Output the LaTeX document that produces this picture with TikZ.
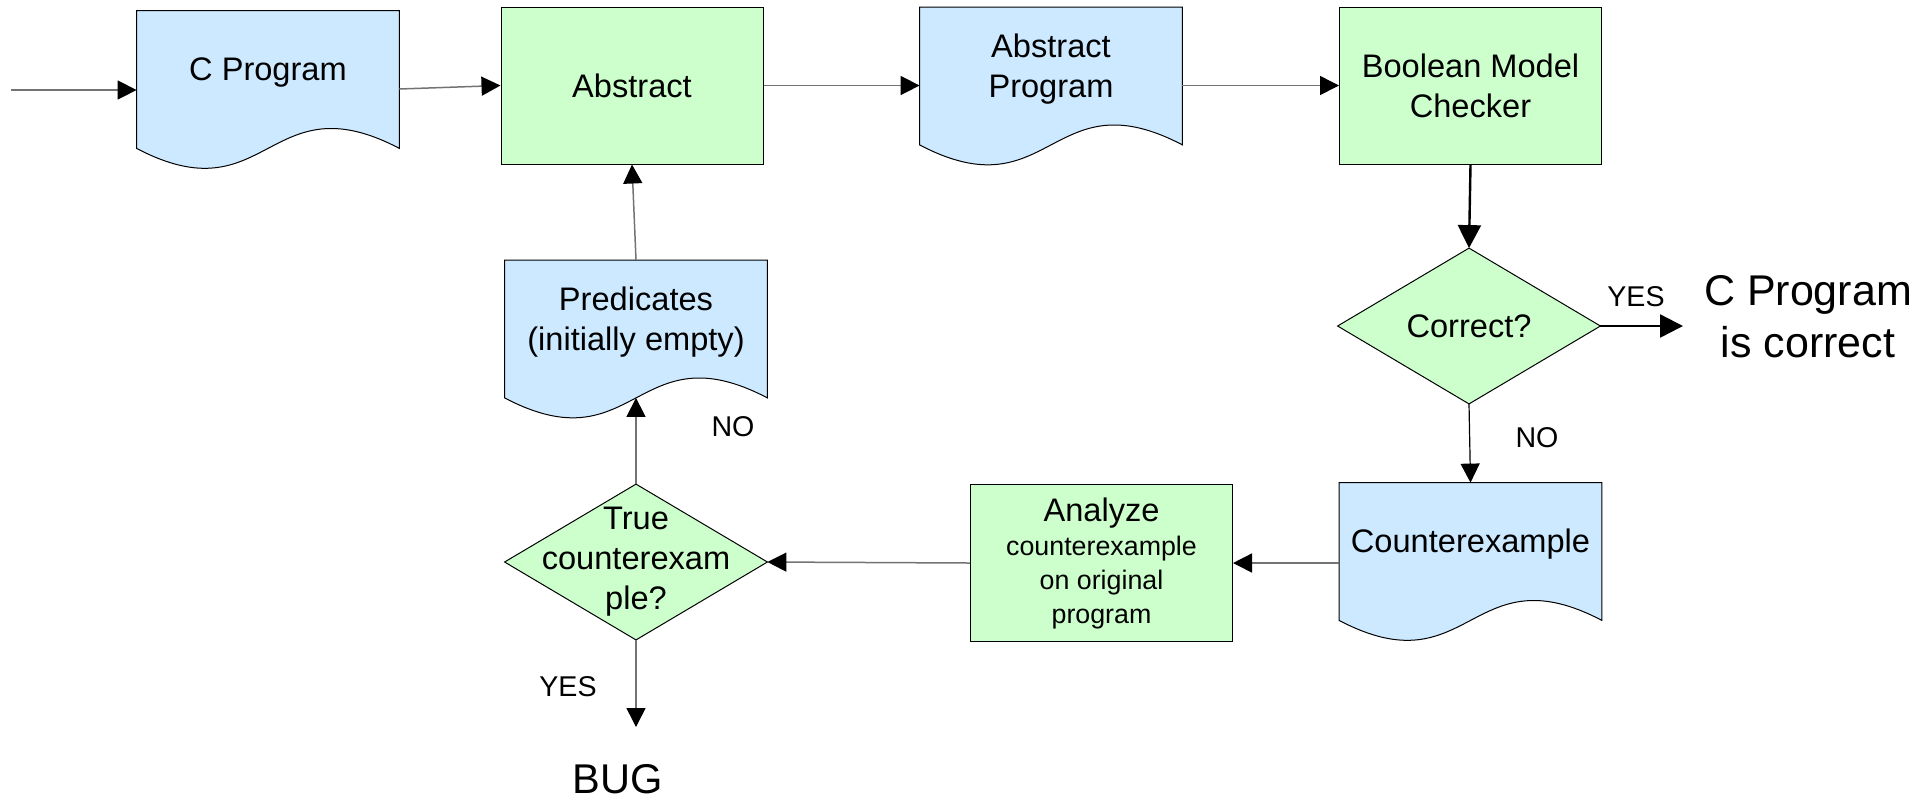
\documentclass[tikz,border=0pt]{standalone}
\usepackage{fontspec}
\setmainfont{Liberation Sans}
\usetikzlibrary{arrows.meta,calc}
\pgfdeclarelayer{background}
\pgfsetlayers{background,main}
\definecolor{docblue}{RGB}{204,233,255}
\definecolor{procgreen}{RGB}{204,255,204}
\definecolor{linegray}{RGB}{115,115,115}
\newcommand\lift[1]{\raisebox{3.5pt}[\height][\depth]{#1}}
\newcommand\docoutline[1]{%
  \filldraw[fill=docblue,draw=black,line width=0.5pt]
    (#1.north west) -- (#1.north east) -- (#1.south east)
    .. controls ($(#1.south)+(0,-69)$) and ($(#1.south)+(0,69)$) .. (#1.south west) -- cycle;}
\newcommand\diamondoutline[1]{%
  \filldraw[fill=procgreen,draw=black,line width=0.5pt]
    (#1.north) -- (#1.east) -- (#1.south) -- (#1.west) -- cycle;}
\tikzset{
  mainfont/.style={font=\fontsize{16.3}{20}\selectfont},
  every node/.style={align=center, inner sep=0pt, mainfont},
  docnode/.style={rectangle, minimum width=131pt, minimum height=68.5pt},
  procbox/.style={rectangle, draw=black, line width=0.5pt, fill=procgreen,
    minimum width=131pt, minimum height=78.5pt},
  decnode/.style={rectangle, minimum width=131pt, minimum height=77.5pt},
  lbl/.style={font=\fontsize{14.3}{17}\selectfont},
  bigtxt/.style={font=\fontsize{21.5}{26}\selectfont},
  arr/.style={draw=linegray, line width=0.75pt,
    -{Triangle[length=9.5pt,width=9.5pt,color=black]}},
  arrblack/.style={draw=black, line width=0.6pt,
    -{Triangle[length=9.5pt,width=9.5pt,color=black]}},
  arrthick/.style={draw=black, line width=1.2pt,
    -{Triangle[length=11.5pt,width=11.5pt,color=black]}},
}
\begin{document}
\begin{tikzpicture}[x=0.5pt,y=-0.5pt]
\useasboundingbox (0,0) rectangle (1920,800);

% top row
\node[docnode] (cp) at (268,79.5) {\lift{C Program}};
\node[procbox] (abs) at (632,85.5) {Abstract};
\node[docnode] (ap) at (1051,76) {\lift{Abstract}\\\lift{Program}};
\node[procbox] (bmc) at (1470.5,85.5) {Boolean Model\\Checker};

% middle row
\node[decnode] (corr) at (1469,326) {Correct?};
\node[bigtxt] (res) at (1808,317) {C Program\\is correct};
\node[docnode] (pred) at (636,329) {\lift{Predicates}\\\lift{(initially empty)}};

% bottom row
\node[docnode] (ce) at (1470.5,551.5) {\lift{Counterexample}};
\node[procbox, font=\fontsize{13.4}{17}\selectfont] (an) at (1101.5,563)
  {{\fontsize{16.3}{20}\selectfont Analyze}\\counterexample\\on original\\program};
\node[decnode] (tc) at (636,562) {True\\counterexam\\ple?};
\node[font=\fontsize{20.8}{25}\selectfont] (bug) at (618,779) {BUG};

% labels
\node[lbl] (yes1) at (1636,297) {YES};
\node[lbl] (no1) at (1537,438) {NO};
\node[lbl] (no2) at (733,427) {NO};
\node[lbl] (yes2) at (568,687) {YES};

% free ends
\coordinate (in) at (11,90);
\coordinate (yesend) at (1683,326);
\coordinate (bugend) at (636,727);

\begin{pgfonlayer}{background}
  \docoutline{cp}
  \docoutline{ap}
  \docoutline{pred}
  \docoutline{ce}
  \diamondoutline{corr}
  \diamondoutline{tc}
\end{pgfonlayer}

% connectors
\draw[arr] (in) -- (in -| cp.west);
\draw[arr] ($(cp.east)+(0,9.5)$) -- (abs.west);
\draw[arr] (abs.east) -- (abs.east -| ap.west);
\draw[arr] (bmc.west -| ap.east) -- (bmc.west);
\draw[arrthick] (bmc.south) -- (corr.north);
\draw[arrthick] (corr.east) -- (yesend);
\draw[arrblack] (corr.south) -- (ce.north);
\draw[arr] (an.east -| ce.west) -- (an.east);
\draw[arr] (an.west) -- (tc.east);
\draw[arr] (tc.north) -- (pred.south);
\draw[arr] (pred.north) -- (abs.south);
\draw[arr] (tc.south) -- (bugend);
\end{tikzpicture}
\end{document}
